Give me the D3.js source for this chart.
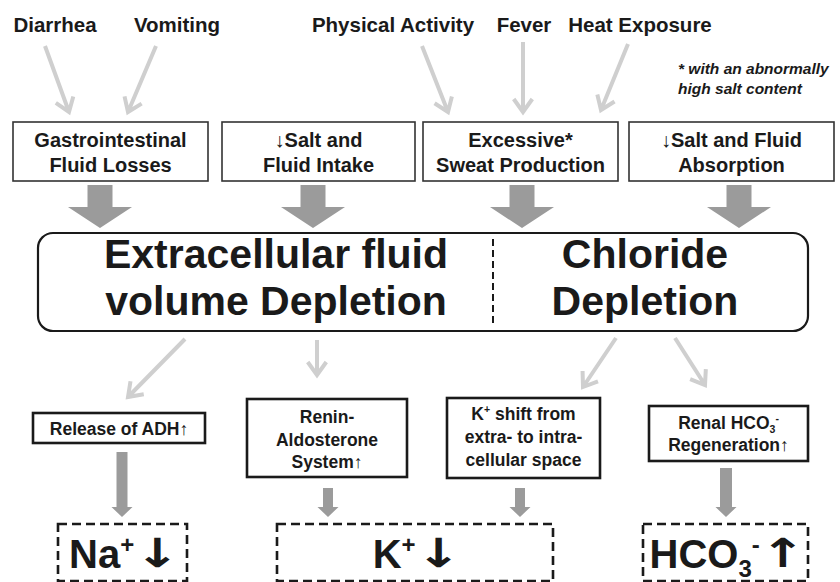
<!DOCTYPE html>
<html lang="en">
<head>
<meta charset="utf-8">
<style type="text/css">
    body { margin: 0; background: #fff; }
    svg { display: block; }
    text { font-family: "Liberation Sans", Arial, sans-serif; font-weight: bold; fill: #1a1a1a; }
    .arrowGlyph { font-family: "DejaVu Sans", sans-serif; }
</style>
</head>
<body>
<svg width="840" height="582"></svg>

<script src="https://d3js.org/d3.v7.min.js"></script>
<script type="text/javascript">
    // ---- content ----
    var causes = ["Diarrhea", "Vomiting", "Physical Activity", "Fever", "Heat Exposure"];
    var causeTarget = [0, 0, 2, 2, 2];

    var mechanisms = [
        [[{t: "Gastrointestinal"}], [{t: "Fluid Losses"}]],
        [[{t: "\u2193Salt and"}], [{t: "Fluid Intake"}]],
        [[{t: "Excessive*"}], [{t: "Sweat Production"}]],
        [[{t: "\u2193Salt and Fluid"}], [{t: "Absorption"}]]
    ];

    var footnote = ["* with an abnormally", "high salt content"];

    var depletion = [
        ["Extracellular fluid", "volume Depletion"],
        ["Chloride", "Depletion"]
    ];

    var responses = [
        [[{t: "Release of ADH\u2191"}]],
        [[{t: "Renin-"}], [{t: "Aldosterone"}], [{t: "System\u2191"}]],
        [[{t: "K"}, {t: "+", s: "sup"}, {t: " shift from"}], [{t: "extra- to intra-"}], [{t: "cellular space"}]],
        [[{t: "Renal HCO"}, {t: "3", s: "sub"}, {t: "-", s: "sup"}], [{t: "Regeneration\u2191"}]]
    ];

    var outcomes = [
        [{t: "Na"}, {t: "+", s: "sup"}],
        [{t: "K"}, {t: "+", s: "sup"}],
        [{t: "HCO"}, {t: "3", s: "sub"}, {t: "-", s: "sup"}]
    ];
    var outcomeArrows = ["\u2193", "\u2193", "\u2191"];
    var responseTarget = [0, 1, 1, 2];

    // ---- layout ----
    var causeX = [55, 177, 393, 524, 640];
    var causeArrows = [[45, 46, 69, 112], [156, 46, 128, 112], [422, 46, 448, 112], [523, 42, 523, 112], [628, 44, 601, 110]];

    var mechBoxes = [[13, 208], [222, 415], [423, 618], [629, 834]];
    var mechTop = 122, mechBottom = 181;

    var mainBox = {x0: 38, x1: 808, y0: 233, y1: 331, split: 493};
    var depCenters = [276, 645];

    var depArrows = [[185, 339, 128, 397], [317, 340, 317, 375], [616, 338, 583, 387], [675, 338, 705, 385]];

    var respBoxes = [[33, 205, 413, 443], [247, 407, 399, 477], [447, 600, 398, 478], [649, 808, 406, 461]];
    var respBaseline = [[435], [423, 445.5, 468], [420, 443, 465.5], [429, 451]];
    var respArrows = [[122, 452, 507, 517, 11, 21], [328, 488, 507, 517, 10, 21], [520, 488, 507, 517, 10, 21], [726, 468, 507, 517, 12, 21]];

    var outBoxes = [[58, 187], [277, 553], [643, 808]];
    var outTop = 524, outBottom = 581;

    var lightGray = "#cfcfcf", midGray = "#9b9b9b", ink = "#1a1a1a";

    var svg = d3.select("svg");

    // write a line made of segments (plain / sup / sub)
    function richLine(sel, segs, x, y, size, anchor) {
        var txt = sel.append("text")
            .attr("x", x).attr("y", y)
            .attr("text-anchor", anchor || "middle")
            .style("font-size", size + "px");
        var shift = 0;
        segs.forEach(function (s) {
            var ts = txt.append("tspan").text(s.t);
            var target = 0, fs = size;
            if (s.s === "sup") { target = -0.38 * size; fs = size * 0.6; }
            if (s.s === "sub") { target = 0.22 * size; fs = size * 0.6; }
            ts.style("font-size", fs + "px");
            if (target !== shift) { ts.attr("dy", target - shift); shift = target; }
        });
        return txt;
    }

    function lightArrow(a) {
        var x1 = a[0], y1 = a[1], x2 = a[2], y2 = a[3];
        var ang = Math.atan2(y2 - y1, x2 - x1), len = 16, spread = 0.62;
        var p = d3.path();
        p.moveTo(x1, y1); p.lineTo(x2, y2);
        p.moveTo(x2 - len * Math.cos(ang - spread), y2 - len * Math.sin(ang - spread));
        p.lineTo(x2, y2);
        p.lineTo(x2 - len * Math.cos(ang + spread), y2 - len * Math.sin(ang + spread));
        svg.append("path").attr("d", p.toString())
            .attr("fill", "none").attr("stroke", lightGray)
            .attr("stroke-width", 4).attr("stroke-linejoin", "miter");
    }

    function blockArrow(cx, yTop, yHead, yTip, shaftW, headW) {
        var p = d3.path();
        p.moveTo(cx - shaftW / 2, yTop);
        p.lineTo(cx + shaftW / 2, yTop);
        p.lineTo(cx + shaftW / 2, yHead);
        p.lineTo(cx + headW / 2, yHead);
        p.lineTo(cx, yTip);
        p.lineTo(cx - headW / 2, yHead);
        p.lineTo(cx - shaftW / 2, yHead);
        p.closePath();
        svg.append("path").attr("d", p.toString()).attr("fill", midGray);
    }

    // ---- causes ----
    causes.forEach(function (c, i) {
        svg.append("text").attr("x", causeX[i]).attr("y", 32)
            .attr("text-anchor", "middle").style("font-size", "20.5px").text(c);
        lightArrow(causeArrows[i]);
    });

    svg.selectAll(".foot").data(footnote).enter().append("text")
        .attr("class", "foot")
        .attr("x", 678).attr("y", function (d, i) { return 74 + i * 20; })
        .style("font-size", "15.5px").style("font-style", "italic").text(function (d) { return d; });

    // ---- mechanisms ----
    mechanisms.forEach(function (m, i) {
        var b = mechBoxes[i];
        svg.append("rect").attr("x", b[0]).attr("y", mechTop)
            .attr("width", b[1] - b[0]).attr("height", mechBottom - mechTop)
            .attr("fill", "#fff").attr("stroke", "#333").attr("stroke-width", 1.6);
        var cx = (b[0] + b[1]) / 2;
        m.forEach(function (line, j) { richLine(svg, line, cx, 147 + j * 25, 20); });
    });

    [100, 313, 522, 739].forEach(function (cx) { blockArrow(cx, 185, 207, 228, 25, 64); });

    // ---- main depletion box ----
    svg.append("rect").attr("x", mainBox.x0).attr("y", mainBox.y0)
        .attr("width", mainBox.x1 - mainBox.x0).attr("height", mainBox.y1 - mainBox.y0)
        .attr("rx", 15).attr("fill", "#fff").attr("stroke", ink).attr("stroke-width", 2.2);
    svg.append("line").attr("x1", mainBox.split).attr("x2", mainBox.split)
        .attr("y1", mainBox.y0 + 6).attr("y2", mainBox.y1 - 5)
        .attr("stroke", ink).attr("stroke-width", 2).attr("stroke-dasharray", "7,4");
    depletion.forEach(function (d, i) {
        d.forEach(function (line, j) {
            svg.append("text").attr("x", depCenters[i]).attr("y", 268 + j * 47)
                .attr("text-anchor", "middle").style("font-size", "41px").text(line);
        });
    });

    depArrows.forEach(lightArrow);

    // ---- responses ----
    responses.forEach(function (r, i) {
        var b = respBoxes[i];
        svg.append("rect").attr("x", b[0]).attr("y", b[2])
            .attr("width", b[1] - b[0]).attr("height", b[3] - b[2])
            .attr("fill", "#fff").attr("stroke", ink).attr("stroke-width", 2.6);
        var cx = (b[0] + b[1]) / 2;
        r.forEach(function (line, j) { richLine(svg, line, cx, respBaseline[i][j], 17.5); });
        var a = respArrows[i];
        blockArrow(a[0], a[1], a[2], a[3], a[4], a[5]);
    });

    // ---- outcomes ----
    var arrowScale = 1.35, gap = 0.5;
    outcomes.forEach(function (o, i) {
        var b = outBoxes[i];
        svg.append("rect").attr("x", b[0]).attr("y", outTop)
            .attr("width", b[1] - b[0]).attr("height", outBottom - outTop)
            .attr("fill", "none").attr("stroke", ink).attr("stroke-width", 2.6)
            .attr("stroke-dasharray", "9,5");
        var label = richLine(svg, o, 0, 568, 40, "start");
        var arrow = svg.append("text").attr("class", "arrowGlyph")
            .attr("x", 0).attr("y", 0)
            .style("font-size", "40px").text(outcomeArrows[i]);
        var w = label.node().getComputedTextLength();
        var aw = arrow.node().getBBox().width * arrowScale;
        var x0 = (b[0] + b[1]) / 2 - (w + gap + aw) / 2 + 2;
        label.attr("x", x0);
        arrow.attr("transform", "translate(" + (x0 + w + gap) + ",567) scale(" + arrowScale + ",1)");
    });
</script>
</body>
</html>
